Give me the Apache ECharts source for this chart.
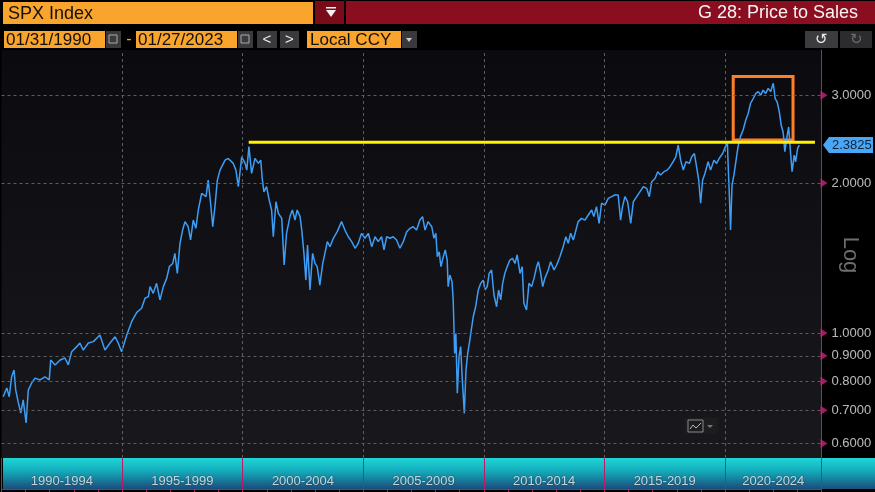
<!DOCTYPE html>
<html>
<head>
<meta charset="utf-8">
<title>SPX Index - Price to Sales</title>
<script src="https://cdn.jsdelivr.net/npm/echarts@6/dist/echarts.min.js"></script>
<style>
	html, body { margin: 0; padding: 0; background: #000; }
	#chart { width: 875px; height: 492px; }
</style>
</head>
<body>
<div id="chart"></div>
<script>
// price to sales, dates as decimal years
var dates = [
	1990.07,1990.22,1990.32,1990.42,1990.52,1990.59,1990.70,1990.80,1990.90,1991.02,
	1991.11,1991.25,1991.39,1991.60,1991.80,1991.98,1992.04,1992.22,1992.43,1992.63,
	1992.77,1992.91,1993.12,1993.25,1993.39,1993.60,1993.81,1994.08,1994.29,1994.50,
	1994.71,1994.84,1994.98,1995.19,1995.40,1995.61,1995.81,1995.95,1996.09,1996.16,
	1996.29,1996.43,1996.57,1996.71,1996.85,1996.96,1997.10,1997.19,1997.29,1997.40,
	1997.51,1997.61,1997.74,1997.84,1997.95,1998.06,1998.16,1998.30,1998.48,1998.57,
	1998.67,1998.76,1998.85,1998.95,1999.06,1999.27,1999.40,1999.61,1999.72,1999.82,
	1999.96,2000.10,2000.17,2000.26,2000.37,2000.51,2000.65,2000.75,2000.81,2000.88,
	2000.99,2001.10,2001.20,2001.27,2001.38,2001.48,2001.62,2001.72,2001.82,2001.96,
	2002.06,2002.17,2002.26,2002.38,2002.45,2002.54,2002.62,2002.69,2002.79,2002.90,
	2003.00,2003.09,2003.20,2003.32,2003.41,2003.51,2003.62,2003.76,2003.92,2004.10,
	2004.24,2004.38,2004.52,2004.66,2004.79,2004.93,2005.07,2005.21,2005.35,2005.49,
	2005.62,2005.76,2005.86,2005.97,2006.11,2006.24,2006.38,2006.52,2006.66,2006.80,
	2006.94,2007.07,2007.21,2007.35,2007.46,2007.56,2007.69,2007.84,2007.93,2008.01,
	2008.07,2008.15,2008.22,2008.32,2008.40,2008.48,2008.52,2008.59,2008.68,2008.73,
	2008.79,2008.84,2008.90,2008.97,2009.04,2009.10,2009.19,2009.26,2009.33,2009.40,
	2009.48,2009.56,2009.66,2009.77,2009.87,2009.97,2010.05,2010.14,2010.22,2010.32,
	2010.42,2010.53,2010.61,2010.70,2010.78,2010.87,2010.97,2011.08,2011.19,2011.29,
	2011.38,2011.50,2011.59,2011.66,2011.77,2011.87,2011.98,2012.08,2012.19,2012.26,
	2012.36,2012.44,2012.53,2012.67,2012.77,2012.91,2013.02,2013.15,2013.29,2013.40,
	2013.50,2013.60,2013.71,2013.82,2013.91,2014.05,2014.19,2014.33,2014.47,2014.56,
	2014.67,2014.78,2014.88,2015.02,2015.16,2015.30,2015.43,2015.57,2015.67,2015.75,
	2015.85,2015.96,2016.09,2016.20,2016.34,2016.47,2016.61,2016.75,2016.86,2016.96,
	2017.10,2017.21,2017.33,2017.47,2017.60,2017.72,2017.85,2017.96,2018.06,2018.16,
	2018.27,2018.38,2018.52,2018.62,2018.73,2018.82,2018.91,2018.99,2019.07,2019.17,
	2019.30,2019.40,2019.54,2019.65,2019.76,2019.90,2020.02,2020.10,2020.13,2020.17,
	2020.23,2020.29,2020.37,2020.45,2020.54,2020.64,2020.75,2020.86,2020.96,2021.06,
	2021.17,2021.28,2021.38,2021.48,2021.58,2021.69,2021.79,2021.89,2022.00,2022.08,
	2022.16,2022.25,2022.33,2022.41,2022.48,2022.57,2022.64,2022.72,2022.78,2022.87,
	2022.93,2023.01,2023.08
];
var ratios = [
	0.745,0.776,0.745,0.817,0.843,0.768,0.724,0.691,0.734,0.660,
	0.768,0.794,0.812,0.805,0.817,0.805,0.883,0.863,0.883,0.891,
	0.863,0.917,0.939,0.955,0.924,0.955,0.961,0.991,0.924,0.955,
	0.983,0.955,0.917,0.990,1.055,1.100,1.121,1.174,1.183,1.239,
	1.201,1.258,1.165,1.239,1.287,1.359,1.379,1.445,1.317,1.513,
	1.609,1.673,1.634,1.537,1.685,1.622,1.765,1.906,1.877,2.026,
	1.821,1.634,1.793,2.026,2.122,2.222,2.240,2.189,2.122,1.966,
	2.257,2.189,2.122,2.365,2.091,2.240,2.189,2.222,2.042,1.920,
	1.966,1.847,1.765,1.560,1.834,1.738,1.698,1.369,1.585,1.712,
	1.765,1.685,1.765,1.712,1.609,1.445,1.277,1.501,1.220,1.445,
	1.379,1.359,1.248,1.379,1.445,1.525,1.490,1.549,1.597,1.673,
	1.609,1.560,1.525,1.479,1.513,1.585,1.549,1.585,1.490,1.560,
	1.525,1.560,1.468,1.560,1.549,1.560,1.537,1.479,1.525,1.597,
	1.622,1.634,1.609,1.685,1.712,1.609,1.673,1.634,1.549,1.585,
	1.423,1.455,1.359,1.423,1.468,1.401,1.239,1.307,1.268,1.165,
	0.910,0.998,0.757,0.896,0.939,0.817,0.690,0.843,0.910,0.954,
	1.014,1.078,1.129,1.220,1.258,1.277,1.220,1.239,1.317,1.338,
	1.192,1.129,1.220,1.165,1.258,1.317,1.359,1.401,1.412,1.379,
	1.434,1.317,1.359,1.147,1.112,1.258,1.239,1.287,1.359,1.390,
	1.317,1.239,1.287,1.338,1.390,1.338,1.369,1.420,1.490,1.560,
	1.513,1.585,1.537,1.609,1.673,1.698,1.685,1.725,1.765,1.712,
	1.793,1.660,1.821,1.806,1.863,1.877,1.892,1.892,1.685,1.793,
	1.877,1.834,1.660,1.834,1.877,1.920,1.966,1.951,1.877,2.011,
	2.042,2.107,2.075,2.107,2.122,2.156,2.206,2.257,2.383,2.222,
	2.122,2.206,2.189,2.257,2.291,2.156,2.026,1.821,2.026,2.091,
	2.206,2.122,2.222,2.189,2.240,2.291,2.365,2.400,2.172,1.950,
	1.609,1.980,2.075,2.206,2.365,2.477,2.555,2.673,2.757,2.890,
	2.954,3.024,3.049,3.000,3.070,3.024,3.096,3.049,3.170,2.954,
	2.910,2.780,2.610,2.530,2.310,2.477,2.590,2.290,2.107,2.275,
	2.206,2.346,2.3825
];
var lastValue = 2.3825;

// right axis ticks and the year bands along the bottom
var yTicks = [0.6, 0.7, 0.8, 0.9, 1.0, 2.0, 3.0];
var yearLines = [1995, 2000, 2005, 2010, 2015, 2020];
var bandLabels = ['1990-1994', '1995-1999', '2000-2004', '2005-2009', '2010-2014', '2015-2019', '2020-2024'];
var bandCenters = [1992.5, 1997.5, 2002.5, 2007.5, 2012.5, 2017.5, 2022.0];

// annotations: 2000 peak level and the 2021 box
var peakLineX = [2000.25, 2023.73];
var peakLineY = [2.413, 2.413];
var boxX = [2020.34, 2022.82];
var boxY = [2.44, 3.27];

var xMin = 1990, xMax = 2023.98;
var yMin = 0.5614, yMax = 3.696;

var FONT = '"Liberation Sans", Arial, sans-serif';
var MAGENTA = '#b21f68';

var myChart = echarts.init(document.getElementById('chart'));

var option = {
	backgroundColor: '#000',
	animation: false,
	grid: [
		{
			left: 1.5, right: 54, top: 50, bottom: 34,
			show: true, borderWidth: 0,
			backgroundColor: new echarts.graphic.LinearGradient(0, 0, 0, 1, [
				{offset: 0, color: '#0b0b0f'},
				{offset: 1, color: '#18181d'}
			])
		},
		{left: 1.5, right: 54, top: 458, height: 31, show: false}
	],
	xAxis: [
		{
			gridIndex: 0, type: 'value', min: xMin, max: xMax,
			axisLine: {show: false}, axisTick: {show: false},
			axisLabel: {show: false}, splitLine: {show: false}
		},
		{
			gridIndex: 1, type: 'value', position: 'top', min: xMin, max: xMax, interval: 5,
			axisLine: {show: true, lineStyle: {color: MAGENTA, width: 1}},
			axisTick: {show: true, inside: true, length: 4, lineStyle: {color: MAGENTA}},
			minorTick: {show: true, splitNumber: 5, length: 4, lineStyle: {color: MAGENTA}},
			axisLabel: {show: false},
			splitLine: {show: true, lineStyle: {color: MAGENTA, width: 1}}
		}
	],
	yAxis: [
		{
			gridIndex: 0, type: 'log', logBase: 10, min: yMin, max: yMax, position: 'right',
			axisLine: {show: true, lineStyle: {color: MAGENTA, width: 1}},
			axisTick: {show: false}, axisLabel: {show: false}, splitLine: {show: false}
		},
		{gridIndex: 1, type: 'value', min: 0, max: 1, show: false}
	],
	series: [
		// dashed grid lines
		{
			type: 'line', xAxisIndex: 0, yAxisIndex: 0, z: 1,
			data: [[dates[0], ratios[0]]],
			symbol: 'none', lineStyle: {opacity: 0}, silent: true,
			markLine: {
				silent: true, symbol: 'none', label: {show: false},
				lineStyle: {color: '#5c5c62', type: [3, 3], width: 1},
				data: yTicks.map(function(v) { return {yAxis: v}; })
					.concat(yearLines.map(function(v) { return {xAxis: v}; }))
			}
		},
		// price to sales
		{
			name: 'SPX Index', type: 'line', xAxisIndex: 0, yAxisIndex: 0, z: 3,
			data: dates.map(function(d, i) { return [d, ratios[i]]; }),
			symbol: 'none',
			lineStyle: {color: '#3d9ef7', width: 1.5},
			silent: true
		},
		// yellow level + orange box
		{
			type: 'line', xAxisIndex: 0, yAxisIndex: 0, z: 5,
			data: peakLineX.map(function(x, i) { return [x, peakLineY[i]]; }),
			symbol: 'none', silent: true,
			lineStyle: {color: '#fff200', width: 3},
			markArea: {
				silent: true,
				itemStyle: {color: 'rgba(0,0,0,0)', borderColor: '#ff7f27', borderWidth: 3},
				data: [[{coord: [boxX[0], boxY[1]]}, {coord: [boxX[1], boxY[0]]}]]
			}
		},
		// tick markers + labels on the right axis
		{
			type: 'scatter', xAxisIndex: 0, yAxisIndex: 0, z: 6, clip: false, silent: true,
			data: yTicks.map(function(v) { return [xMax, v]; }),
			symbol: 'triangle', symbolSize: [9, 7], symbolRotate: -90, symbolOffset: [3, 0],
			itemStyle: {color: '#c8237c'},
			label: {
				show: true, position: 'right', distance: 4,
				color: '#e6e6e6', fontSize: 13, fontFamily: FONT,
				formatter: function(p) { return p.value[1].toFixed(4); }
			}
		},
		// bottom band labels
		{
			type: 'scatter', xAxisIndex: 1, yAxisIndex: 1, z: 6, silent: true,
			data: bandCenters.map(function(c) { return [c, 0.25]; }),
			symbolSize: 0,
			label: {
				show: true, position: 'inside',
				color: '#f2f2f2', fontSize: 13, fontFamily: FONT,
				textShadowColor: 'rgba(0,0,0,0.6)', textShadowBlur: 2,
				formatter: function(p) { return bandLabels[p.dataIndex]; }
			}
		}
	]
};
myChart.setOption(option);

// header bar, toolbar, band background, last value tag
function box(x, y, w, h, fill, z) {
	return {type: 'rect', z: z || 10, shape: {x: x, y: y, width: w, height: h}, style: {fill: fill}};
}
function txt(x, y, text, color, size, align, z) {
	return {
		type: 'text', z: z || 11, x: x, y: y,
		style: {text: text, fill: color, fontSize: size, fontFamily: FONT, align: align || 'left', verticalAlign: 'middle'}
	};
}

var yc = myChart.convertToPixel({gridIndex: 0}, [xMax, lastValue])[1];
var ORANGE = '#f9a42c', GRAY = '#3a3a3c';

var graphics = [
	// bottom band
	{
		type: 'rect', z: -1, shape: {x: 3, y: 458, width: 872, height: 31},
		style: {fill: new echarts.graphic.LinearGradient(0, 0, 0, 1, [
			{offset: 0, color: '#1fd6d8'},
			{offset: 0.4, color: '#14aebd'},
			{offset: 1, color: '#1b4c7c'}
		])}
	},
	// title row
	box(3, 2, 310, 22, ORANGE),
	txt(8, 14, 'SPX Index', '#111', 18),
	box(315, 1, 29, 23, '#7a0c1a'),
	{type: 'polygon', z: 11, shape: {points: [[326, 10], [336, 10], [331, 17]]}, style: {fill: '#f2f2f2'}},
	box(326, 7, 10, 1.5, '#f2f2f2', 11),
	box(346, 1, 529, 23, '#8a0e1f'),
	txt(858, 13, 'G 28: Price to Sales', '#f4f4f4', 18, 'right'),
	// date row
	box(4, 31, 101, 17, ORANGE),
	txt(6, 40, '01/31/1990', '#111', 17),
	box(106, 31, 15, 17, GRAY),
	{type: 'rect', z: 11, shape: {x: 109, y: 35, width: 8, height: 8}, style: {fill: 'none', stroke: '#aaa', lineWidth: 1}},
	txt(129, 40, '-', ORANGE, 16, 'center'),
	box(136, 31, 101, 17, ORANGE),
	txt(138, 40, '01/27/2023', '#111', 17),
	box(238, 31, 15, 17, GRAY),
	{type: 'rect', z: 11, shape: {x: 241, y: 35, width: 8, height: 8}, style: {fill: 'none', stroke: '#aaa', lineWidth: 1}},
	box(257, 31, 20, 17, GRAY),
	txt(267, 40, '<', '#eee', 15, 'center'),
	box(280, 31, 19, 17, GRAY),
	txt(289.5, 40, '>', '#eee', 15, 'center'),
	box(307, 31, 94, 17, ORANGE),
	txt(310, 40, 'Local CCY', '#111', 17),
	box(402, 31, 15, 17, GRAY),
	{type: 'polygon', z: 11, shape: {points: [[406, 38], [412, 38], [409, 42]]}, style: {fill: '#ccc'}},
	box(805, 31, 33, 17, '#3c3c3e'),
	txt(821.5, 40, '\u21BA', '#e8e8e8', 15, 'center'),
	box(840, 31, 32, 17, '#2c2c2e'),
	txt(856, 40, '\u21BB', '#6a6a6a', 15, 'center'),
	// Log label
	{
		type: 'text', z: 11, x: 850, y: 255, rotation: -Math.PI / 2,
		style: {text: 'Log', fill: '#6e6e6e', fontSize: 22, fontFamily: FONT, align: 'center', verticalAlign: 'middle'}
	},
	// chart type button
	box(685, 418, 33, 16, '#1d1d20'),
	{type: 'rect', z: 11, shape: {x: 688, y: 420, width: 15, height: 12}, style: {fill: 'none', stroke: '#8a8a8a', lineWidth: 1}},
	{type: 'polyline', z: 11, shape: {points: [[690, 429], [693, 425], [696, 428], [701, 423]]}, style: {stroke: '#bbb', lineWidth: 1, fill: 'none'}},
	{type: 'polygon', z: 11, shape: {points: [[707, 425], [713, 425], [710, 428]]}, style: {fill: '#777'}},
	// last value tag
	{type: 'polygon', z: 12, shape: {points: [[823, yc], [829, yc - 8], [873, yc - 8], [873, yc + 8], [829, yc + 8]]}, style: {fill: '#4aa6f6'}},
	txt(832, yc + 0.5, lastValue.toFixed(4), '#10243a', 13, 'left', 13)
];

myChart.setOption({graphic: graphics});
</script>
</body>
</html>
